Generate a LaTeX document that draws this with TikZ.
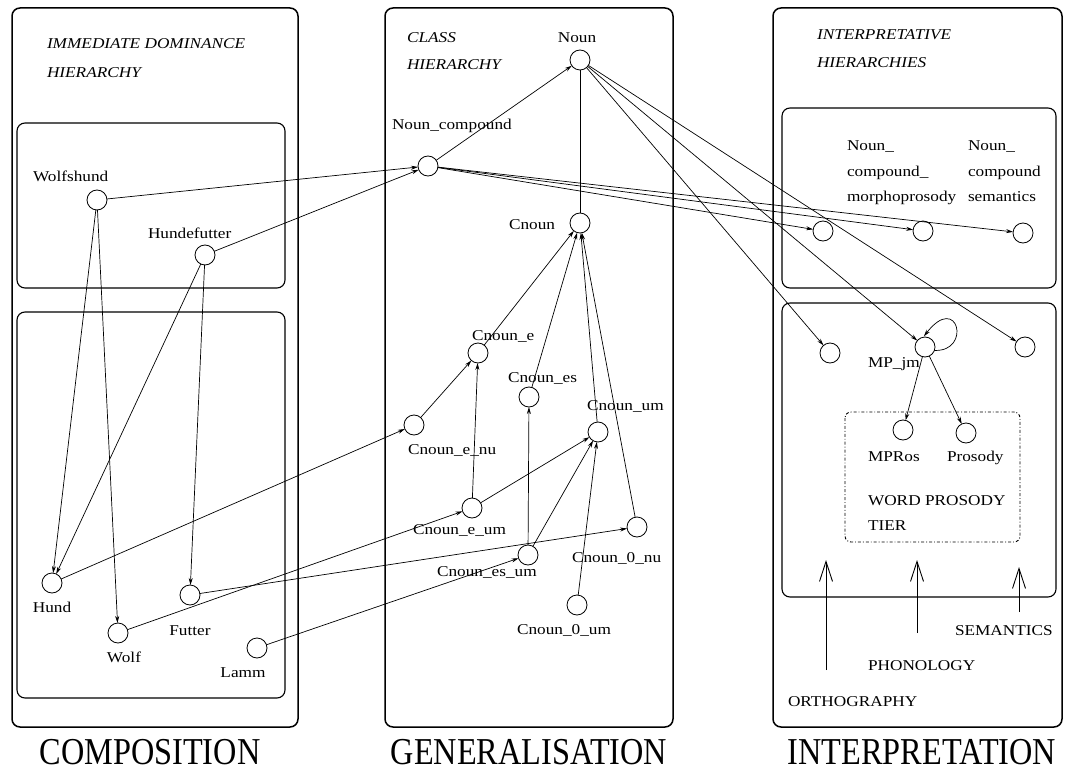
\documentclass[tikz,border=0pt]{standalone}
\usepackage{fontspec}
\setmainfont[FakeStretch=1.15]{Liberation Serif}
\newfontfamily\capfont[FakeStretch=0.85]{Liberation Serif}
\usetikzlibrary{arrows.meta}

\begin{document}
\begin{tikzpicture}[x=1pt,y=-1pt,
  every node/.style={inner sep=0pt, outer sep=0pt},
  cnode/.style={circle, draw, minimum size=20pt, line width=0.8pt},
  lbl/.style={font=\fontsize{15}{17}\selectfont, anchor=base west},
  lblc/.style={font=\fontsize{15}{17}\selectfont, anchor=base},
  ttl/.style={font=\fontsize{15}{17}\selectfont\itshape, anchor=base west},
  caption/.style={font=\capfont\fontsize{38}{40}\selectfont, anchor=base},
  panel/.style={draw, line width=1.5pt, rounded corners=8pt},
  subbox/.style={draw, line width=1.1pt, rounded corners=8pt},
  tierbox/.style={draw, line width=0.9pt, dash dot, rounded corners=6pt},
  link/.style={line width=0.7pt, -{Stealth[length=7pt,width=4pt]}},
  bare/.style={line width=0.7pt},
  inputarrow/.style={line width=0.9pt, -{Straight Barb[length=20pt,width=13pt]}},
]
\useasboundingbox (0,0) rectangle (1071,773);

% ---------- panels ----------
\draw[panel] (12,8) rectangle (298,727);
\draw[panel] (385,8) rectangle (673,727);
\draw[panel] (773,8) rectangle (1062,727);
\draw[subbox] (17,123) rectangle (285,288);
\draw[subbox] (17,312) rectangle (285,698);
\draw[subbox] (782,108) rectangle (1056,288);
\draw[subbox] (782,303) rectangle (1056,597);
\draw[tierbox] (845,412) rectangle (1020,542);

% ---------- titles ----------
\node[ttl] (t1a) at (47,49) {IMMEDIATE DOMINANCE};
\node[ttl] (t1b) at (47,78) {HIERARCHY};
\node[ttl] (t2a) at (407,43) {CLASS};
\node[ttl] (t2b) at (407,70) {HIERARCHY};
\node[ttl] (t3a) at (817,40) {INTERPRETATIVE};
\node[ttl] (t3b) at (817,68) {HIERARCHIES};

% ---------- composition ----------
\node[cnode] (wolfshund) at (97,200) {};
\node[cnode] (hundefutter) at (205,255) {};
\node[cnode] (hund) at (52,583) {};
\node[cnode] (wolf) at (118,633) {};
\node[cnode] (futter) at (190,595) {};
\node[cnode] (lamm) at (257,648) {};
\node[lbl] (l-wolfshund) at (33,181) {Wolfshund};
\node[lbl] (l-hundefutter) at (148,238) {Hundefutter};
\node[lblc] (l-hund) at (52,612) {Hund};
\node[lblc] (l-wolf) at (124,662) {Wolf};
\node[lblc] (l-futter) at (190,635) {Futter};
\node[lblc] (l-lamm) at (243,677) {Lamm};

% ---------- generalisation ----------
\node[cnode] (noun) at (580,60) {};
\node[cnode] (ncomp) at (428,166) {};
\node[cnode] (cnoun) at (580,223) {};
\node[cnode] (cnoune) at (478,353) {};
\node[cnode] (cnounes) at (529,397) {};
\node[cnode] (cnounum) at (598,432) {};
\node[cnode] (cnounenu) at (414,425) {};
\node[cnode] (cnouneum) at (472,508) {};
\node[cnode] (cnounesum) at (528,555) {};
\node[cnode] (cnoun0nu) at (637,527) {};
\node[cnode] (cnoun0um) at (577,605) {};
\node[lblc] (l-noun) at (577,43) {Noun};
\node[lbl] (l-ncomp) at (392,130) {Noun\_compound};
\node[lbl, anchor=base east] (l-cnoun) at (555,229) {Cnoun};
\node[lbl] (l-cnoune) at (472,340) {Cnoun\_e};
\node[lbl] (l-cnounes) at (508,382) {Cnoun\_es};
\node[lbl] (l-cnounum) at (587,410) {Cnoun\_um};
\node[lbl] (l-cnounenu) at (408,454) {Cnoun\_e\_nu};
\node[lbl] (l-cnouneum) at (413,534) {Cnoun\_e\_um};
\node[lbl] (l-cnounesum) at (437,576) {Cnoun\_es\_um};
\node[lbl] (l-cnoun0nu) at (572,562) {Cnoun\_0\_nu};
\node[lbl] (l-cnoun0um) at (517,634) {Cnoun\_0\_um};

% ---------- interpretation ----------
\node[cnode] (mpcomp) at (823,231) {};
\node[cnode] (mpmorph) at (923,231) {};
\node[cnode] (mpsem) at (1023,233) {};
\node[cnode] (rb1) at (830,353) {};
\node[cnode] (mpjm) at (925,347) {};
\node[cnode] (rb3) at (1025,347) {};
\node[cnode] (mpros) at (903,430) {};
\node[cnode] (prosody) at (966,433) {};
\node[lbl] (l-m1) at (847,150) {Noun\_};
\node[lbl] (l-m2) at (847,176) {compound\_};
\node[lbl] (l-m3) at (847,201) {morphoprosody};
\node[lbl] (l-s1) at (968,150) {Noun\_};
\node[lbl] (l-s2) at (968,176) {compound};
\node[lbl] (l-s3) at (968,201) {semantics};
\node[lbl] (l-mpjm) at (868,367) {MP\_jm};
\node[lbl] (l-mpros) at (868,461) {MPRos};
\node[lbl] (l-prosody) at (947,461) {Prosody};
\node[lbl] (l-tier1) at (868,505) {WORD PROSODY};
\node[lbl] (l-tier2) at (868,530) {TIER};
\node[lbl] (l-sem) at (955,635) {SEMANTICS};
\node[lbl] (l-phon) at (868,670) {PHONOLOGY};
\node[lbl] (l-orth) at (788,706) {ORTHOGRAPHY};

% ---------- captions ----------
\node[caption] (c1) at (150,764) {COMPOSITION};
\node[caption] (c2) at (529,764) {GENERALISATION};
\node[caption] (c3) at (922,764) {INTERPRETATION};

% ---------- composition links ----------
\draw[link] (wolfshund) -- (hund);
\draw[link] (wolfshund) -- (wolf);
\draw[link] (hundefutter) -- (hund);
\draw[link] (hundefutter) -- (futter);
\draw[link] (wolfshund) -- (ncomp);
\draw[link] (hundefutter) -- (ncomp);
\draw[link] (hund) -- (cnounenu);
\draw[link] (wolf) -- (cnouneum);
\draw[link] (futter) -- (cnoun0nu);
\draw[link] (lamm) -- (cnounesum);

% ---------- class hierarchy links ----------
\draw[link] (ncomp) -- (noun);
\draw[bare] (cnoun) -- (noun);
\draw[link] (cnoune) -- (cnoun);
\draw[link] (cnounes) -- (cnoun);
\draw[link] (cnounum) -- (cnoun);
\draw[link] (cnoun0nu) -- (cnoun);
\draw[link] (cnounenu) -- (cnoune);
\draw[link] (cnouneum) -- (cnoune);
\draw[link] (cnouneum) -- (cnounum);
\draw[link] (cnounesum) -- (cnounes);
\draw[link] (cnounesum) -- (cnounum);
\draw[link] (cnoun0um) -- (cnounum);

% ---------- interpretation links ----------
\draw[link] (ncomp) -- (mpcomp);
\draw[link] (ncomp) -- (mpmorph);
\draw[link] (ncomp) -- (mpsem);
\draw[link] (noun) -- (rb1);
\draw[link] (noun) -- (mpjm);
\draw[link] (noun) -- (rb3);
\draw[link, shorten >=1pt] (mpjm.-20) .. controls (972,352) and (958,292) .. (mpjm.100);
\draw[link] (mpjm) -- (mpros);
\draw[link] (mpjm) -- (prosody);

% ---------- input tiers ----------
\coordinate (orthFoot) at (826,670);
\coordinate (orthHead) at (826,560);
\coordinate (phonFoot) at (917,633);
\coordinate (phonHead) at (917,560);
\coordinate (semFoot) at (1019,612);
\coordinate (semHead) at (1019,567);
\draw[inputarrow] (orthFoot) -- (orthHead);
\draw[inputarrow] (phonFoot) -- (phonHead);
\draw[inputarrow] (semFoot) -- (semHead);
\end{tikzpicture}
\end{document}
